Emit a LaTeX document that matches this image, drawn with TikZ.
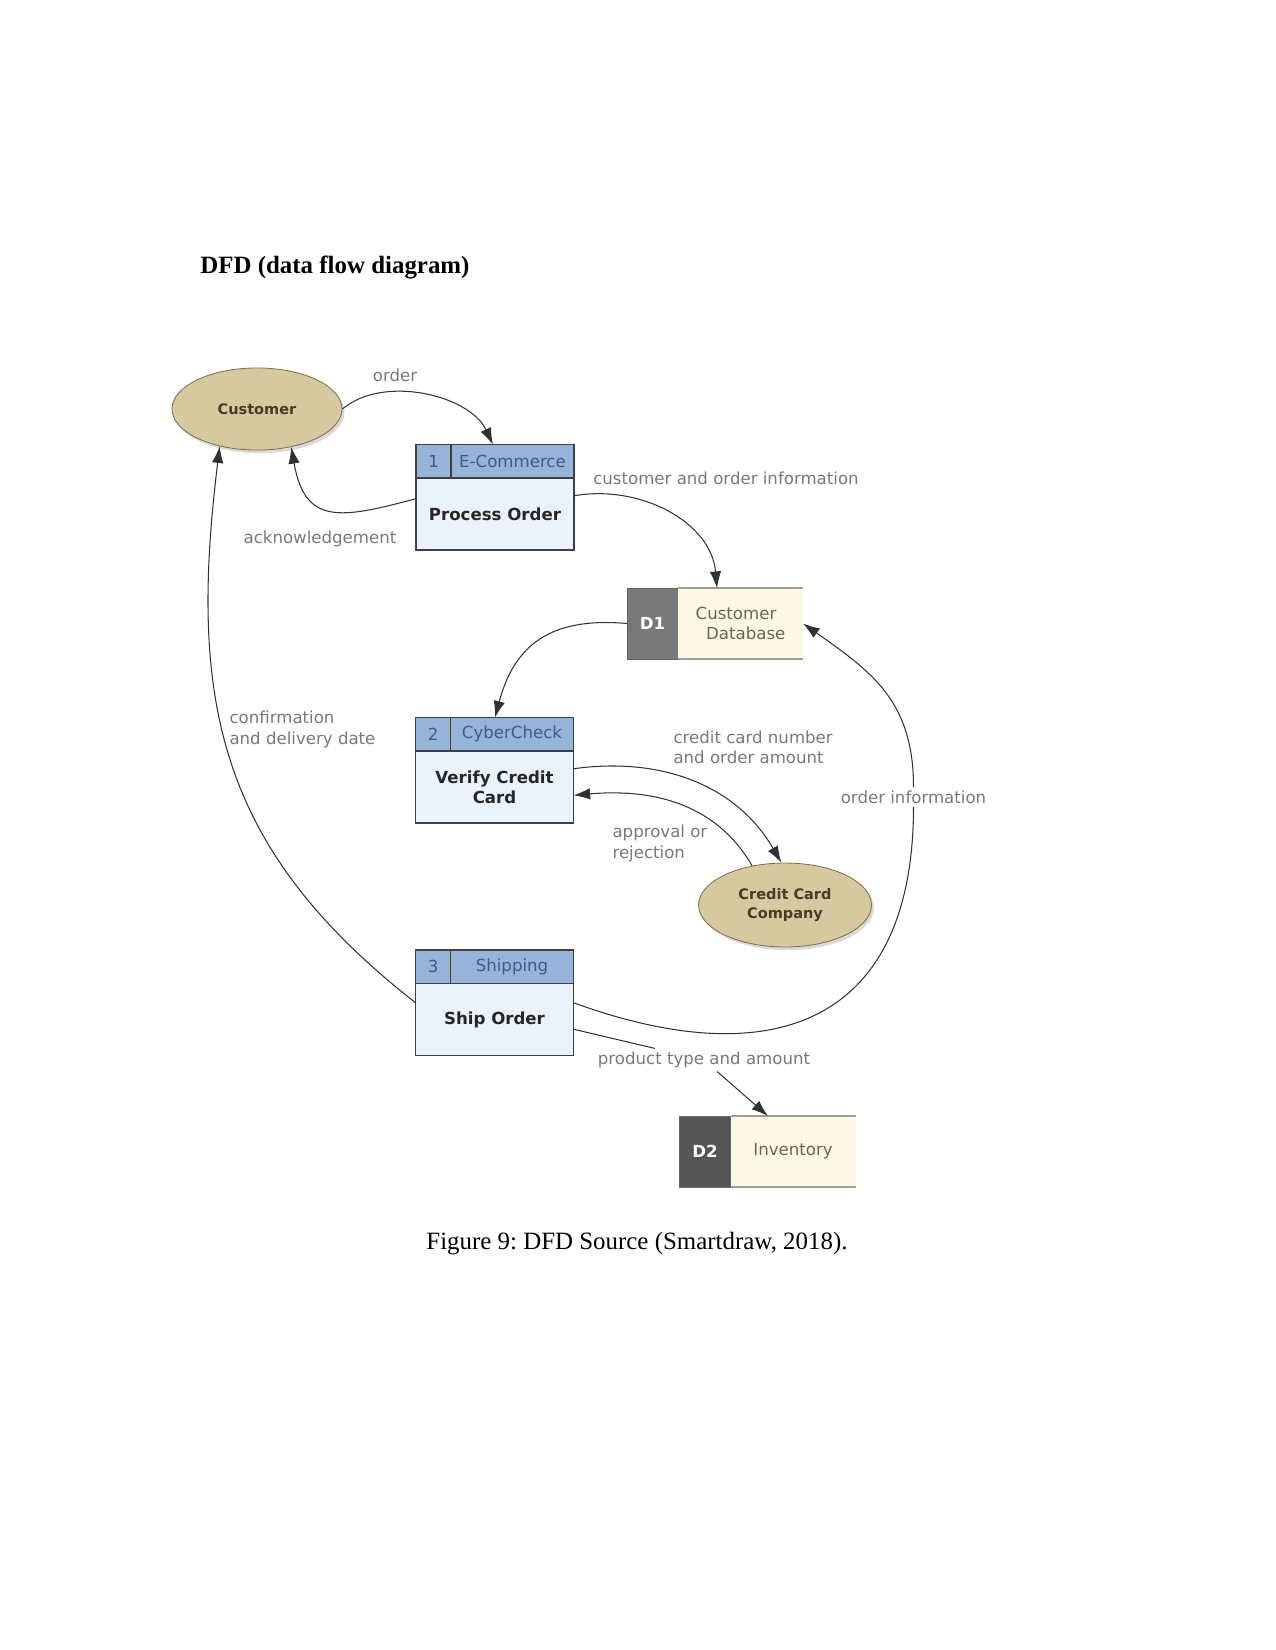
\documentclass[tikz,border=0pt]{standalone}
\usepackage{fontspec}
\setmainfont{Liberation Serif}
\newfontfamily\dfdfont{DejaVu Sans}
\usepackage{xcolor}
\usetikzlibrary{arrows.meta, positioning, shapes.geometric, shadows}
\definecolor{HeadBlue}{RGB}{150,180,215}
\definecolor{BodyBlue}{RGB}{234,243,251}
\definecolor{HeadText}{RGB}{65,90,130}
\definecolor{EntTan}{RGB}{214,201,160}
\definecolor{EntLine}{RGB}{125,112,80}
\definecolor{EntText}{RGB}{70,60,40}
\definecolor{StoreDarkA}{RGB}{120,120,120}
\definecolor{StoreDarkB}{RGB}{85,85,85}
\definecolor{StoreFill}{RGB}{252,248,232}
\definecolor{StoreLine}{RGB}{160,158,145}
\definecolor{StoreText}{RGB}{110,100,80}
\definecolor{LabelGray}{RGB}{120,120,120}
\definecolor{FlowGray}{RGB}{50,50,50}
\tikzset{
  >={Latex[length=8bp,width=5.5bp]},
  % processes
  proc body/.style={draw=black!75,fill=BodyBlue,line width=0.8pt,minimum width=75.8bp,minimum height=34.6bp,
    inner sep=1pt,outer sep=0pt,align=center,text=black!85,font=\dfdfont\bfseries\fontsize{8}{9.5}\selectfont},
  proc head/.style={draw=black!75,fill=HeadBlue,line width=0.8pt,minimum height=16bp,inner sep=0pt,outer sep=0pt,
    text=HeadText,font=\dfdfont\fontsize{8}{9.5}\selectfont},
  proc num/.style={proc head,minimum width=16.8bp},
  proc title/.style={proc head,minimum width=59bp},
  % external entities
  ext ent/.style={ellipse,draw=EntLine,fill=EntTan,minimum width=81.6bp,minimum height=39.4bp,inner sep=0pt,
    align=center,text=EntText,font=\dfdfont\bfseries\fontsize{7}{9.3}\selectfont,
    drop shadow={shadow xshift=1.2bp,shadow yshift=-1.5bp,opacity=0.3}},
  % data stores
  store id/.style={draw=black!60,minimum width=24.5bp,minimum height=34bp,inner sep=0pt,outer sep=0pt,
    text=white,font=\dfdfont\bfseries\fontsize{8}{9.5}\selectfont},
  store name/.style={fill=StoreFill,minimum width=60bp,minimum height=34bp,inner sep=0pt,outer sep=0pt,
    text=StoreText,font=\dfdfont\fontsize{8}{9.8}\selectfont},
  store line/.style={StoreLine,line width=0.8pt},
  % flows
  flow/.style={->,draw=FlowGray,line width=0.5pt},
  flow label/.style={text=LabelGray,inner sep=1.5pt,font=\dfdfont\fontsize{8}{9.8}\selectfont}
}
\frenchspacing
\begin{document}
\begin{tikzpicture}[x=0.48bp,y=-0.48bp]
  \useasboundingbox (0,0) rectangle (1275,1650);
  \node[anchor=base west,inner sep=0pt,font=\bfseries\fontsize{12}{14}\selectfont] (title) at (200,273) {DFD (data flow diagram)};

  % external entities
  \node[ext ent] (cust) at (257,409) {Customer};
  \node[ext ent,minimum width=83bp,minimum height=40.3bp] (ccc) at (785,905) {Credit Card\\Company};

  % processes
  \node[proc body] (p1) at (495,514) {Process Order};
  \node[proc num,anchor=south west] (n1) at (p1.north west) {1};
  \node[proc title,anchor=south east] (t1) at (p1.north east) {E-Commerce};
  \node[proc body] (p2) at (494.5,787) {Verify Credit\\Card};
  \node[proc num,anchor=south west] (n2) at (p2.north west) {2};
  \node[proc title,anchor=south east] (t2) at (p2.north east) {CyberCheck};
  \node[proc body] (p3) at (494.5,1019.5) {Ship Order};
  \node[proc num,anchor=south west] (n3) at (p3.north west) {3};
  \node[proc title,anchor=south east] (t3) at (p3.north east) {Shipping};

  % data stores
  \node[store id,fill=StoreDarkA] (d1) at (652.5,623.5) {D1};
  \node[store name,right=0pt of d1,align=left] (d1t) {Customer\\\hspace*{5bp}Database};
  \node[store id,fill=StoreDarkB] (d2) at (705,1151.5) {D2};
  \node[store name,right=0pt of d2] (d2t) {Inventory};
  \draw[store line] (d1t.north west) -- (d1t.north east) (d1t.south west) -- (d1t.south east);
  \draw[store line] (d2t.north west) -- (d2t.north east) (d2t.south west) -- (d2t.south east);

  % labels
  \node[flow label] (lorder) at (395,375) {order};
  \node[flow label] (lack) at (320,539) {acknowledgement};
  \node[flow label] (lcoi) at (726,478) {customer and order information};
  \node[flow label,anchor=west,align=left] (lconf) at (226,729.5) {confirmation\\and delivery date};
  \node[flow label,anchor=west,align=left] (lccn) at (670,747) {credit card number\\and order amount};
  \node[flow label,anchor=west,align=left] (lapp) at (609,843.5) {approval or\\rejection};
  \node[flow label] (oinfo) at (913.5,797) {order information};
  \node[flow label] (ptype) at (704,1060) {product type and amount};

  % flows
  \draw[flow] (cust.0) to[out=40,in=115,looseness=0.9] ([xshift=-9.4bp]t1.north);
  \draw[flow] (p1.169) to[out=195,in=-80,looseness=1.5] (cust.-48);
  \draw[flow] (p1.13) to[out=10,in=95] ([xshift=-11.3bp]d1t.north);
  \draw[flow] (d1.west) to[out=175,in=75,looseness=1.2] ([xshift=-8.2bp]t2.north);
  \draw[flow] (p2.13) to[out=8,in=120] (ccc.95);
  \draw[flow] (ccc.130) to[out=120,in=5] (p2.-6);
  \draw[flow] (p3.168) to[out=142,in=-97,looseness=1.1] (cust.-135);
  \draw[flow] (p3.12) to[out=-20,in=-90,looseness=1.4] (oinfo) to[out=90,in=-35,looseness=1.1] (d1t.east);
  \draw[flow] (p3.-7) -- (ptype) -- ([xshift=-12bp]d2t.north);

  \node[anchor=base,font=\fontsize{12}{14}\selectfont] (caption) at (637,1249) {Figure 9: DFD Source (Smartdraw, 2018).};
\end{tikzpicture}
\end{document}
